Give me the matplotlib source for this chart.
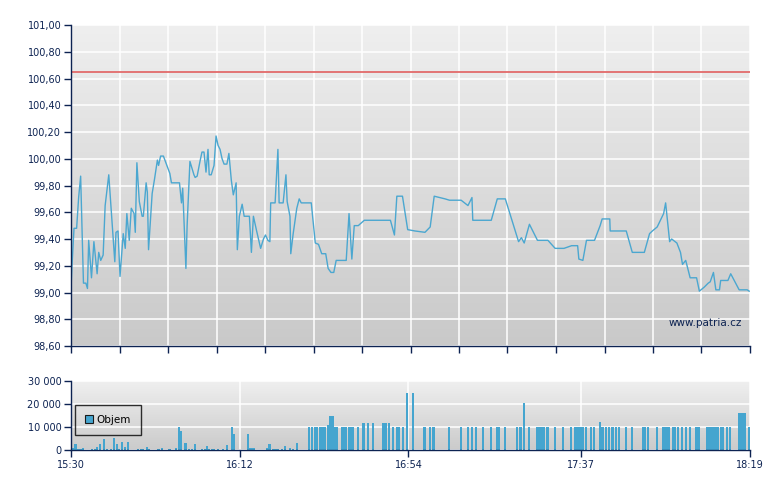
import numpy as np
import matplotlib
matplotlib.use("Agg")
import matplotlib.pyplot as plt
from matplotlib.patches import Patch

# ---- data ----
# price series: minutes after 15:30, price
price_min = [0, 0.25, 0.75, 1.4, 1.9, 2.4, 3.1, 3.7, 4.1, 4.4, 5.1, 5.7, 6.5, 6.9, 7.4, 8.0, 8.5, 9.4,
             10.2, 10.9, 11.2, 11.7, 12.2, 13.0, 13.5, 13.9, 14.5, 15.0, 15.7, 16.0, 16.4, 17.0, 17.7,
             18.0, 18.7, 19.0, 19.3, 20.2, 20.8, 21.5, 21.8, 22.3, 23.0, 24.0, 24.6, 25.0, 27.0, 27.5,
             27.8, 28.6, 28.9, 29.6, 30.6, 30.9, 31.4, 32.1, 32.6, 33.1, 33.6, 34.1, 34.4, 34.9, 35.6,
             36.1, 36.6, 37.1, 37.6, 38.1, 38.8, 39.3, 39.9, 40.4, 41.1, 41.4, 41.9, 42.6, 43.1, 44.4,
             44.9, 45.4, 46.2, 47.2, 47.9, 48.4, 49.0, 49.5, 49.7, 50.8, 51.5, 51.8, 52.8, 53.5, 53.8,
             54.5, 54.7, 55.3, 56.2, 56.8, 57.3, 59.8, 60.8, 61.6, 62.4, 63.4, 64.0, 64.7, 65.4, 66.0,
             68.5, 69.2, 69.9, 70.5, 71.5, 73.0, 79.5, 80.5, 81.1, 82.5, 83.8, 85.6, 88.1, 89.4, 90.4,
             93.1, 94.2, 97.1, 98.8, 99.8, 100.0, 104.6, 106.1, 108.1, 111.4, 112.1, 112.8, 114.1,
             116.1, 118.7, 120.5, 122.7, 124.6, 126.1, 126.4, 127.4, 128.3, 130.3, 131.7, 132.2, 134.1,
             134.2, 138.2, 139.7, 142.7, 144.0, 144.7, 145.9, 147.5, 148.0, 149.0, 149.5, 150.8, 151.7,
             152.2, 153.0, 154.1, 155.7, 156.4, 157.6, 158.6, 159.1, 159.9, 160.5, 161.4, 161.7, 163.5,
             164.2, 166.3, 168.3, 168.8]
price_val = [99.03, 99.20, 99.48, 99.48, 99.71, 99.87, 99.07, 99.07, 99.03, 99.39, 99.11, 99.38, 99.14,
             99.30, 99.24, 99.28, 99.65, 99.88, 99.53, 99.23, 99.45, 99.46, 99.12, 99.44, 99.33, 99.59,
             99.39, 99.63, 99.59, 99.45, 99.97, 99.68, 99.57, 99.57, 99.82, 99.75, 99.32, 99.74, 99.85,
             99.99, 99.95, 100.02, 100.02, 99.94, 99.89, 99.82, 99.82, 99.67, 99.78, 99.18, 99.50, 99.98,
             99.88, 99.86, 99.87, 99.98, 100.05, 100.05, 99.90, 100.07, 99.88, 99.88, 99.95, 100.17,
             100.10, 100.07, 100.00, 99.96, 99.96, 100.04, 99.84, 99.73, 99.82, 99.32, 99.57, 99.66,
             99.57, 99.57, 99.30, 99.57, 99.46, 99.33, 99.40, 99.43, 99.39, 99.38, 99.67, 99.67, 100.07,
             99.67, 99.67, 99.88, 99.68, 99.57, 99.29, 99.44, 99.63, 99.70, 99.67, 99.67, 99.37, 99.36,
             99.29, 99.29, 99.18, 99.15, 99.15, 99.24, 99.24, 99.59, 99.25, 99.50, 99.50, 99.54, 99.54,
             99.43, 99.72, 99.72, 99.47, 99.46, 99.45, 99.49, 99.72, 99.70, 99.69, 99.69, 99.65, 99.71,
             99.54, 99.54, 99.70, 99.70, 99.38, 99.41, 99.37, 99.51, 99.39, 99.39, 99.33, 99.33, 99.35,
             99.35, 99.25, 99.24, 99.39, 99.39, 99.50, 99.55, 99.55, 99.46, 99.46, 99.30, 99.30, 99.44,
             99.46, 99.49, 99.59, 99.67, 99.38, 99.40, 99.37, 99.30, 99.21, 99.24, 99.11, 99.11, 99.01,
             99.04, 99.07, 99.08, 99.15, 99.02, 99.02, 99.09, 99.09, 99.14, 99.02, 99.02, 99.01]
ref_price = 100.65

# volume series: minutes after 15:30, volume
vol_min = [0.6, 1.1, 1.6, 2.1, 2.4, 2.9, 5.2, 5.9, 6.5, 7.2,
           8.2, 8.9, 9.9, 10.7, 11.5, 12.0, 12.7, 13.5, 14.2, 16.7,
           17.4, 17.8, 19.0, 19.5, 21.8, 22.6, 24.5, 26.1, 26.8, 27.3,
           28.5, 29.3, 30.1, 30.8, 32.6, 33.4, 33.8, 34.3, 35.0, 35.6,
           36.6, 37.9, 38.9, 40.1, 40.6, 44.0, 44.7, 45.4, 48.7, 49.4,
           50.2, 50.9, 51.5, 52.5, 53.3, 54.5, 55.2, 56.3,
           59.3, 60.0, 60.7, 61.3, 62.0, 62.5, 63.1, 64.1, 64.6, 65.1,
           65.6, 66.1, 67.5, 68.0, 68.5, 69.1, 69.6, 70.1, 71.4, 72.8,
           73.9, 75.1, 77.8, 78.3, 79.2, 80.2, 81.1, 81.7, 82.6, 83.6,
           85.2, 88.0, 89.4, 90.2, 94.0, 97.0, 98.8, 99.8, 100.8, 102.5,
           104.5, 106.0, 106.6, 108.1, 111.1, 111.9, 112.8, 113.9, 116.1, 116.6,
           117.1, 117.6, 118.6, 120.4, 122.5, 124.5, 125.4, 126.0, 126.5, 127.0,
           127.5, 128.2, 129.4, 130.2, 131.7, 132.3, 133.2, 134.0, 134.8, 135.7,
           136.3, 138.1, 139.6, 142.3, 142.8, 143.6, 145.8, 147.3, 147.8, 148.3,
           148.9, 149.8, 150.4, 151.1, 152.1, 153.1, 154.1, 155.7, 156.2, 158.2,
           158.8, 159.4, 160.0, 160.6, 161.1, 161.7, 162.2, 163.2, 164.0, 166.2,
           166.8, 167.3, 167.8, 168.7]
vol_val = [860, 2600, 600, 600, 600, 900, 400, 400, 1100, 2600,
           4700, 400, 400, 5100, 2600, 400, 3400, 1100, 3400, 400,
           400, 400, 1300, 400, 400, 900, 500, 900, 9900, 8100,
           3000, 400, 400, 2600, 400, 400, 1700, 400, 400, 400,
           400, 400, 2000, 9900, 6900, 6900, 900, 900, 900, 2600,
           400, 400, 400, 500, 1700, 900, 400, 3000,
           10000, 10000, 10000, 10000, 10000, 10000, 10000, 10900, 15000, 15000,
           10000, 10000, 10000, 10000, 10000, 10000, 10000, 10000, 10000, 11700,
           11700, 11700, 11700, 11700, 11700, 10000, 10000, 10000, 10000, 24900,
           24900, 10000, 10000, 10000, 10000, 10000, 10000, 10000, 10000, 10000,
           10000, 10000, 10000, 10000, 10000, 10000, 20600, 10000, 10000, 10000,
           10000, 10000, 10000, 10000, 10000, 10000, 10000, 10000, 10000, 10000,
           10000, 10000, 10000, 10000, 12000, 10000, 10000, 10000, 10000, 10000,
           10000, 10000, 10000, 10000, 10000, 10000, 10000, 10000, 10000, 10000,
           10000, 10000, 10000, 10000, 10000, 10000, 10000, 10000, 10000, 10000,
           10000, 10000, 10000, 10000, 10000, 10000, 10000, 10000, 10000, 16300,
           16300, 16300, 16300, 10000]

time_ticks = [0, 42, 84, 127, 169]
time_labels = ["15:30", "16:12", "16:54", "17:37", "18:19"]
price_ticks = [98.6, 98.8, 99.0, 99.2, 99.4, 99.6, 99.8, 100.0, 100.2, 100.4, 100.6, 100.8, 101.0]
vol_ticks = [0, 10000, 20000, 30000]
vol_labels = ["0", "10 000", "20 000", "30 000"]

# ---- style ----
NAVY = "#0d2352"
LINE = "#4ba7d0"
BAR = "#45a5cf"
T_END = 169

plt.rcParams['font.family'] = ['DejaVu Sans']

fig = plt.figure(figsize=(7.8, 4.9), dpi=100)
fig.patch.set_facecolor("white")

W, H = 780, 490
def axrect(l, t, r, b):
    return [l / W, 1 - b / H, (r - l) / W, (b - t) / H]

ax = fig.add_axes(axrect(71, 25, 750, 346))
axv = fig.add_axes(axrect(71, 381, 750, 450))

def gradient(a, top, bottom):
    g = np.linspace(0, 1, 256).reshape(-1, 1)
    c0 = np.array(matplotlib.colors.to_rgb(top))
    c1 = np.array(matplotlib.colors.to_rgb(bottom))
    img = c0[None, None, :] * (1 - g[:, :, None]) + c1[None, None, :] * g[:, :, None]
    a.imshow(img, extent=[0, 1, 0, 1], transform=a.transAxes, aspect="auto", zorder=0,
             interpolation="bilinear")

def style(a):
    for s in ["top", "right"]:
        a.spines[s].set_visible(False)
    for s in ["left", "bottom"]:
        a.spines[s].set_color(NAVY)
        a.spines[s].set_linewidth(1.0)
        a.spines[s].set_zorder(5)
    a.tick_params(axis="both", colors=NAVY, labelcolor=NAVY, length=5, width=1,
                  labelsize=7, pad=2, direction="out")
    a.set_axisbelow(True)

# main price chart
gradient(ax, "#efefef", "#c9c9c9")
ax.plot(price_min, price_val, color=LINE, lw=1.0, zorder=3)
ax.axhline(ref_price, color="#e26a6a", lw=1.3, zorder=2)
ax.set_xlim(0, T_END)
ax.set_ylim(98.6, 101.0)
ax.set_yticks(price_ticks)
ax.set_yticklabels([f"{v:.2f}".replace(".", ",") for v in price_ticks])
grid_x = [T_END * i / 14 for i in range(15)]
ax.set_xticks(grid_x)
ax.set_xticklabels([])
ax.grid(True, color="white", lw=1.1, zorder=1)
style(ax)
ax.text(0.988, 0.072, "www.patria.cz", transform=ax.transAxes, ha="right", va="center",
        fontsize=7.5, color=NAVY, zorder=4)

# volume chart
gradient(axv, "#efefef", "#cbcbcb")
axv.bar(vol_min, vol_val, width=0.55, color=BAR, zorder=3, linewidth=0)
axv.set_xlim(0, T_END)
axv.set_ylim(0, 30000)
axv.set_yticks(vol_ticks)
axv.set_yticklabels(vol_labels)
axv.set_xticks(time_ticks)
axv.set_xticklabels(time_labels)
axv.grid(True, color="white", lw=1.1, zorder=1)
style(axv)
leg = axv.legend(handles=[Patch(facecolor=BAR, edgecolor="#1a1a1a", lw=0.8, label="Objem")],
                 loc="upper left", bbox_to_anchor=(0.006, 0.655), frameon=True, fancybox=False,
                 fontsize=7.5, handlelength=0.75, handleheight=0.75, handletextpad=0.35,
                 borderpad=0.95, borderaxespad=0)
leg.get_frame().set_edgecolor("black")
leg.get_frame().set_facecolor("none")
leg.get_frame().set_linewidth(1.0)
leg.set_zorder(6)

fig.savefig("out.png", dpi=100)
